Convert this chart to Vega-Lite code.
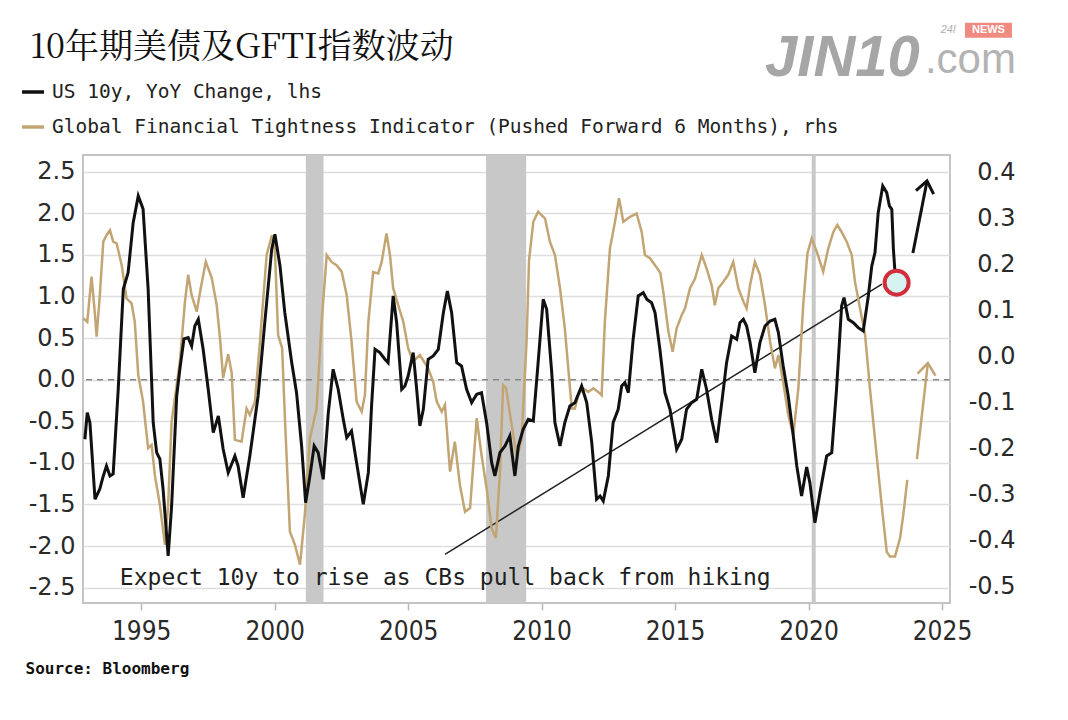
{
  "$schema": "https://vega.github.io/schema/vega-lite/v6.json",
  "width": 867,
  "height": 448,
  "autosize": {"type": "none"},
  "padding": {"left": 83, "top": 155, "right": 118, "bottom": 117},
  "background": "#ffffff",
  "title": {
    "text": "10年期美债及GFTI指数波动",
    "anchor": "start",
    "frame": "group",
    "dx": -53,
    "dy": 48,
    "offset": 6,
    "font": "Noto Serif CJK SC, Noto Sans CJK SC",
    "fontSize": 34,
    "fontWeight": "normal",
    "color": "#111111"
  },
  "config": {
    "view": {"stroke": "#c4c4c4", "strokeWidth": 2},
    "legend": {
      "symbolType": "stroke",
      "symbolSize": 484,
      "symbolStrokeWidth": 3.5,
      "labelFont": "DejaVu Sans Mono",
      "labelFontSize": 19.5,
      "labelColor": "#222222",
      "labelLimit": 1000,
      "labelOffset": 6,
      "rowPadding": 12,
      "padding": 0
    }
  },
  "datasets": {
    "us10": [
      {"t": 1992.89, "v": -0.716}, {"t": 1992.98, "v": -0.397}, {"t": 1993.08, "v": -0.517}, {"t": 1993.27, "v": -1.437},
      {"t": 1993.45, "v": -1.314}, {"t": 1993.58, "v": -1.157}, {"t": 1993.70, "v": -1.037}, {"t": 1993.83, "v": -1.157},
      {"t": 1993.95, "v": -1.133}, {"t": 1994.14, "v": -0.112}, {"t": 1994.33, "v": 1.090}, {"t": 1994.51, "v": 1.286},
      {"t": 1994.70, "v": 1.887}, {"t": 1994.89, "v": 2.208}, {"t": 1995.07, "v": 2.052}, {"t": 1995.26, "v": 1.090},
      {"t": 1995.45, "v": -0.517}, {"t": 1995.58, "v": -0.877}, {"t": 1995.70, "v": -0.953}, {"t": 1995.82, "v": -1.314},
      {"t": 1996.01, "v": -2.119}, {"t": 1996.14, "v": -1.518}, {"t": 1996.33, "v": -0.196}, {"t": 1996.45, "v": 0.129},
      {"t": 1996.60, "v": 0.489}, {"t": 1996.76, "v": 0.505}, {"t": 1996.89, "v": 0.405}, {"t": 1997.01, "v": 0.645},
      {"t": 1997.14, "v": 0.726}, {"t": 1997.32, "v": 0.369}, {"t": 1997.51, "v": -0.112}, {"t": 1997.70, "v": -0.637},
      {"t": 1997.89, "v": -0.436}, {"t": 1998.07, "v": -0.833}, {"t": 1998.26, "v": -1.118}, {"t": 1998.51, "v": -0.917},
      {"t": 1998.63, "v": -1.037}, {"t": 1998.82, "v": -1.418}, {"t": 1999.07, "v": -0.917}, {"t": 1999.38, "v": -0.196},
      {"t": 1999.63, "v": 0.685}, {"t": 1999.89, "v": 1.567}, {"t": 2000.01, "v": 1.748}, {"t": 2000.20, "v": 1.367},
      {"t": 2000.38, "v": 0.805}, {"t": 2000.64, "v": 0.204}, {"t": 2000.82, "v": -0.156}, {"t": 2001.01, "v": -0.797},
      {"t": 2001.16, "v": -1.478}, {"t": 2001.32, "v": -1.157}, {"t": 2001.48, "v": -0.797}, {"t": 2001.63, "v": -0.877},
      {"t": 2001.82, "v": -1.197}, {"t": 2002.01, "v": -0.397}, {"t": 2002.19, "v": 0.125}, {"t": 2002.38, "v": -0.115},
      {"t": 2002.57, "v": -0.476}, {"t": 2002.70, "v": -0.697}, {"t": 2002.88, "v": -0.617}, {"t": 2003.07, "v": -0.998},
      {"t": 2003.32, "v": -1.498}, {"t": 2003.51, "v": -1.118}, {"t": 2003.63, "v": -0.316}, {"t": 2003.76, "v": 0.365},
      {"t": 2003.94, "v": 0.325}, {"t": 2004.13, "v": 0.245}, {"t": 2004.25, "v": 0.204}, {"t": 2004.44, "v": 1.006},
      {"t": 2004.57, "v": 0.685}, {"t": 2004.76, "v": -0.115}, {"t": 2004.88, "v": -0.076}, {"t": 2005.00, "v": 0.044},
      {"t": 2005.19, "v": 0.325}, {"t": 2005.32, "v": -0.115}, {"t": 2005.44, "v": -0.556}, {"t": 2005.57, "v": -0.356},
      {"t": 2005.75, "v": 0.245}, {"t": 2005.94, "v": 0.285}, {"t": 2006.13, "v": 0.365}, {"t": 2006.32, "v": 0.805},
      {"t": 2006.47, "v": 1.066}, {"t": 2006.63, "v": 0.805}, {"t": 2006.82, "v": 0.204}, {"t": 2007.00, "v": 0.165},
      {"t": 2007.19, "v": -0.115}, {"t": 2007.38, "v": -0.276}, {"t": 2007.57, "v": -0.175}, {"t": 2007.75, "v": -0.156},
      {"t": 2007.94, "v": -0.517}, {"t": 2008.13, "v": -0.998}, {"t": 2008.25, "v": -1.157}, {"t": 2008.44, "v": -0.877},
      {"t": 2008.63, "v": -0.797}, {"t": 2008.81, "v": -0.677}, {"t": 2009.00, "v": -1.157}, {"t": 2009.13, "v": -0.797},
      {"t": 2009.31, "v": -0.596}, {"t": 2009.50, "v": -0.476}, {"t": 2009.69, "v": -0.496}, {"t": 2009.87, "v": 0.204},
      {"t": 2010.06, "v": 0.966}, {"t": 2010.19, "v": 0.846}, {"t": 2010.38, "v": 0.084}, {"t": 2010.50, "v": -0.517},
      {"t": 2010.69, "v": -0.797}, {"t": 2010.87, "v": -0.517}, {"t": 2011.06, "v": -0.316}, {"t": 2011.25, "v": -0.276},
      {"t": 2011.50, "v": -0.076}, {"t": 2011.69, "v": -0.276}, {"t": 2011.88, "v": -0.757}, {"t": 2012.06, "v": -1.437},
      {"t": 2012.19, "v": -1.398}, {"t": 2012.31, "v": -1.458}, {"t": 2012.50, "v": -1.157}, {"t": 2012.68, "v": -0.517},
      {"t": 2012.87, "v": -0.356}, {"t": 2013.00, "v": -0.076}, {"t": 2013.12, "v": -0.036}, {"t": 2013.25, "v": -0.156},
      {"t": 2013.43, "v": 0.486}, {"t": 2013.62, "v": 1.006}, {"t": 2013.81, "v": 1.046}, {"t": 2013.94, "v": 0.966},
      {"t": 2014.12, "v": 0.925}, {"t": 2014.25, "v": 0.805}, {"t": 2014.43, "v": 0.369}, {"t": 2014.62, "v": -0.156},
      {"t": 2014.81, "v": -0.356}, {"t": 2015.06, "v": -0.837}, {"t": 2015.25, "v": -0.716}, {"t": 2015.43, "v": -0.356},
      {"t": 2015.62, "v": -0.276}, {"t": 2015.81, "v": -0.236}, {"t": 2016.00, "v": 0.125}, {"t": 2016.18, "v": -0.115},
      {"t": 2016.37, "v": -0.476}, {"t": 2016.56, "v": -0.757}, {"t": 2016.75, "v": -0.276}, {"t": 2016.93, "v": 0.204},
      {"t": 2017.12, "v": 0.525}, {"t": 2017.31, "v": 0.486}, {"t": 2017.43, "v": 0.685}, {"t": 2017.56, "v": 0.726},
      {"t": 2017.68, "v": 0.645}, {"t": 2017.81, "v": 0.445}, {"t": 2017.99, "v": 0.084}, {"t": 2018.18, "v": 0.445},
      {"t": 2018.37, "v": 0.645}, {"t": 2018.56, "v": 0.705}, {"t": 2018.74, "v": 0.726}, {"t": 2018.87, "v": 0.565},
      {"t": 2019.05, "v": 0.165}, {"t": 2019.24, "v": -0.196}, {"t": 2019.43, "v": -0.677}, {"t": 2019.56, "v": -1.037},
      {"t": 2019.74, "v": -1.398}, {"t": 2019.93, "v": -1.049}, {"t": 2020.05, "v": -1.238}, {"t": 2020.24, "v": -1.719},
      {"t": 2020.43, "v": -1.358}, {"t": 2020.68, "v": -0.917}, {"t": 2020.87, "v": -0.877}, {"t": 2021.05, "v": -0.115},
      {"t": 2021.24, "v": 0.886}, {"t": 2021.33, "v": 0.986}, {"t": 2021.49, "v": 0.726}, {"t": 2021.68, "v": 0.685},
      {"t": 2021.86, "v": 0.625}, {"t": 2022.05, "v": 0.585}, {"t": 2022.24, "v": 1.006}, {"t": 2022.37, "v": 1.367},
      {"t": 2022.49, "v": 1.527}, {"t": 2022.61, "v": 2.007}, {"t": 2022.78, "v": 2.328}, {"t": 2022.93, "v": 2.248},
      {"t": 2023.03, "v": 2.088}, {"t": 2023.12, "v": 2.048}, {"t": 2023.18, "v": 1.567}, {"t": 2023.24, "v": 1.286}
    ],
    "gfti": [
      {"t": 1992.83, "v": 0.083}, {"t": 1992.98, "v": 0.075}, {"t": 1993.14, "v": 0.173}, {"t": 1993.27, "v": 0.090},
      {"t": 1993.33, "v": 0.043}, {"t": 1993.45, "v": 0.133}, {"t": 1993.58, "v": 0.249}, {"t": 1993.70, "v": 0.263},
      {"t": 1993.83, "v": 0.274}, {"t": 1993.95, "v": 0.249}, {"t": 1994.08, "v": 0.245}, {"t": 1994.27, "v": 0.198},
      {"t": 1994.45, "v": 0.126}, {"t": 1994.64, "v": 0.115}, {"t": 1994.76, "v": 0.075}, {"t": 1994.89, "v": -0.040},
      {"t": 1995.07, "v": -0.098}, {"t": 1995.26, "v": -0.199}, {"t": 1995.39, "v": -0.192}, {"t": 1995.51, "v": -0.257},
      {"t": 1995.70, "v": -0.322}, {"t": 1995.89, "v": -0.409}, {"t": 1996.01, "v": -0.322}, {"t": 1996.14, "v": -0.142},
      {"t": 1996.33, "v": -0.062}, {"t": 1996.45, "v": -0.011}, {"t": 1996.64, "v": 0.119}, {"t": 1996.76, "v": 0.177},
      {"t": 1996.89, "v": 0.133}, {"t": 1997.08, "v": 0.097}, {"t": 1997.23, "v": 0.148}, {"t": 1997.42, "v": 0.205},
      {"t": 1997.64, "v": 0.171}, {"t": 1997.83, "v": 0.111}, {"t": 1997.95, "v": 0.041}, {"t": 1998.07, "v": -0.047},
      {"t": 1998.26, "v": 0.005}, {"t": 1998.39, "v": -0.036}, {"t": 1998.51, "v": -0.181}, {"t": 1998.76, "v": -0.185},
      {"t": 1998.95, "v": -0.113}, {"t": 1999.07, "v": -0.127}, {"t": 1999.26, "v": -0.098}, {"t": 1999.45, "v": 0.032},
      {"t": 1999.70, "v": 0.220}, {"t": 1999.90, "v": 0.263}, {"t": 2000.01, "v": 0.231}, {"t": 2000.13, "v": 0.046},
      {"t": 2000.28, "v": 0.018}, {"t": 2000.38, "v": -0.127}, {"t": 2000.57, "v": -0.380}, {"t": 2000.76, "v": -0.409},
      {"t": 2000.95, "v": -0.452}, {"t": 2001.13, "v": -0.344}, {"t": 2001.32, "v": -0.178}, {"t": 2001.57, "v": -0.113},
      {"t": 2001.76, "v": 0.075}, {"t": 2001.95, "v": 0.220}, {"t": 2002.13, "v": 0.205}, {"t": 2002.32, "v": 0.198},
      {"t": 2002.51, "v": 0.184}, {"t": 2002.70, "v": 0.133}, {"t": 2002.88, "v": 0.032}, {"t": 2003.07, "v": -0.098},
      {"t": 2003.26, "v": -0.120}, {"t": 2003.38, "v": -0.084}, {"t": 2003.51, "v": 0.075}, {"t": 2003.69, "v": 0.183},
      {"t": 2003.88, "v": 0.180}, {"t": 2004.01, "v": 0.205}, {"t": 2004.19, "v": 0.267}, {"t": 2004.32, "v": 0.220},
      {"t": 2004.44, "v": 0.148}, {"t": 2004.63, "v": 0.111}, {"t": 2004.82, "v": 0.075}, {"t": 2005.00, "v": 0.018},
      {"t": 2005.19, "v": -0.011}, {"t": 2005.44, "v": 0.003}, {"t": 2005.75, "v": -0.026}, {"t": 2005.94, "v": -0.055},
      {"t": 2006.07, "v": -0.098}, {"t": 2006.26, "v": -0.120}, {"t": 2006.38, "v": -0.105}, {"t": 2006.57, "v": -0.250},
      {"t": 2006.75, "v": -0.185}, {"t": 2006.94, "v": -0.279}, {"t": 2007.13, "v": -0.337}, {"t": 2007.32, "v": -0.329},
      {"t": 2007.57, "v": -0.134}, {"t": 2007.75, "v": -0.214}, {"t": 2007.94, "v": -0.286}, {"t": 2008.13, "v": -0.373},
      {"t": 2008.29, "v": -0.394}, {"t": 2008.44, "v": -0.250}, {"t": 2008.56, "v": -0.062}, {"t": 2008.67, "v": -0.069},
      {"t": 2008.81, "v": -0.123}, {"t": 2009.07, "v": -0.218}, {"t": 2009.25, "v": -0.181}, {"t": 2009.44, "v": 0.036},
      {"t": 2009.53, "v": 0.209}, {"t": 2009.69, "v": 0.292}, {"t": 2009.87, "v": 0.314}, {"t": 2010.13, "v": 0.299},
      {"t": 2010.31, "v": 0.249}, {"t": 2010.50, "v": 0.220}, {"t": 2010.69, "v": 0.148}, {"t": 2010.87, "v": 0.061},
      {"t": 2011.00, "v": -0.026}, {"t": 2011.13, "v": -0.113}, {"t": 2011.25, "v": -0.113}, {"t": 2011.37, "v": -0.084},
      {"t": 2011.56, "v": -0.069}, {"t": 2011.75, "v": -0.077}, {"t": 2011.94, "v": -0.069}, {"t": 2012.12, "v": -0.077},
      {"t": 2012.25, "v": -0.084}, {"t": 2012.37, "v": 0.075}, {"t": 2012.56, "v": 0.234}, {"t": 2012.75, "v": 0.292},
      {"t": 2012.90, "v": 0.343}, {"t": 2013.06, "v": 0.292}, {"t": 2013.31, "v": 0.303}, {"t": 2013.56, "v": 0.310},
      {"t": 2013.75, "v": 0.270}, {"t": 2013.87, "v": 0.220}, {"t": 2014.06, "v": 0.213}, {"t": 2014.25, "v": 0.198},
      {"t": 2014.45, "v": 0.181}, {"t": 2014.56, "v": 0.140}, {"t": 2014.75, "v": 0.054}, {"t": 2014.91, "v": 0.010},
      {"t": 2015.06, "v": 0.061}, {"t": 2015.25, "v": 0.090}, {"t": 2015.37, "v": 0.104}, {"t": 2015.56, "v": 0.148},
      {"t": 2015.75, "v": 0.169}, {"t": 2016.00, "v": 0.220}, {"t": 2016.18, "v": 0.191}, {"t": 2016.37, "v": 0.155},
      {"t": 2016.49, "v": 0.111}, {"t": 2016.62, "v": 0.148}, {"t": 2016.81, "v": 0.162}, {"t": 2016.99, "v": 0.177},
      {"t": 2017.18, "v": 0.205}, {"t": 2017.37, "v": 0.148}, {"t": 2017.56, "v": 0.119}, {"t": 2017.68, "v": 0.104},
      {"t": 2017.81, "v": 0.155}, {"t": 2017.99, "v": 0.205}, {"t": 2018.18, "v": 0.177}, {"t": 2018.37, "v": 0.111},
      {"t": 2018.56, "v": 0.032}, {"t": 2018.74, "v": -0.026}, {"t": 2018.87, "v": 0.003}, {"t": 2019.05, "v": -0.055},
      {"t": 2019.24, "v": -0.127}, {"t": 2019.43, "v": -0.170}, {"t": 2019.62, "v": -0.069}, {"t": 2019.80, "v": 0.111},
      {"t": 2019.96, "v": 0.224}, {"t": 2020.12, "v": 0.256}, {"t": 2020.31, "v": 0.227}, {"t": 2020.55, "v": 0.184},
      {"t": 2020.74, "v": 0.234}, {"t": 2020.93, "v": 0.270}, {"t": 2021.08, "v": 0.285}, {"t": 2021.24, "v": 0.270},
      {"t": 2021.43, "v": 0.249}, {"t": 2021.62, "v": 0.220}, {"t": 2021.74, "v": 0.162}, {"t": 2021.93, "v": 0.104},
      {"t": 2022.12, "v": 0.046}, {"t": 2022.30, "v": -0.069}, {"t": 2022.55, "v": -0.214}, {"t": 2022.74, "v": -0.322},
      {"t": 2022.93, "v": -0.424}, {"t": 2023.05, "v": -0.434}, {"t": 2023.24, "v": -0.434}, {"t": 2023.43, "v": -0.394},
      {"t": 2023.55, "v": -0.344}, {"t": 2023.70, "v": -0.268}
    ],
    "recessions": [
      {"start": 2001.17, "end": 2001.83},
      {"start": 2007.92, "end": 2009.42},
      {"start": 2020.12, "end": 2020.27}
    ]
  },
  "layer": [
    {
      "layer": [
        {
          "data": {"name": "recessions"},
          "mark": {"type": "rect", "color": "#c8c8c8"},
          "encoding": {
            "x": {
              "field": "start", "type": "quantitative",
              "scale": {"domain": [1992.82, 2025.3], "nice": false, "zero": false},
              "axis": {
                "values": [1995, 2000, 2005, 2010, 2015, 2020, 2025],
                "format": "d",
                "grid": false,
                "domain": false,
                "ticks": true,
                "tickColor": "#b8b8b8",
                "tickSize": 7,
                "tickWidth": 1.5,
                "labelFont": "Liberation Sans Narrow, DejaVu Sans Condensed, sans-serif",
                "labelFontSize": 26,
                "labelColor": "#2a2a2a",
                "labelPadding": 8,
                "title": "Source: Bloomberg",
                "titleAnchor": "start",
                "titleAlign": "left",
                "titleBaseline": "middle",
                "titleX": -58,
                "titleY": 65,
                "titleFont": "DejaVu Sans Mono",
                "titleFontSize": 16,
                "titleFontWeight": "bold",
                "titleColor": "#111111"
              }
            },
            "x2": {"field": "end"}
          }
        },
        {
          "data": {"values": [{}]},
          "mark": {"type": "rule", "color": "#888888", "strokeWidth": 1.5, "strokeDash": [6, 5]},
          "encoding": {
            "y": {
              "datum": 0, "type": "quantitative",
              "scale": {"domain": [-2.684, 2.7], "nice": false, "zero": false},
              "axis": {
                "orient": "left",
                "values": [-2.5, -2, -1.5, -1, -0.5, 0, 0.5, 1, 1.5, 2, 2.5],
                "labelExpr": "replace(format(datum.value, '.1f'), '\u2212', '-')",
                "grid": true,
                "gridColor": "#dedede",
                "gridWidth": 1.5,
                "domain": false,
                "ticks": false,
                "labelFont": "DejaVu Sans",
                "labelFontSize": 24,
                "labelColor": "#2a2a2a",
                "labelPadding": 8,
                "title": null
              }
            }
          }
        },
        {
          "data": {"values": [{"t": 2006.38, "v": -2.099}, {"t": 2022.75, "v": 1.147}]},
          "mark": {"type": "line", "color": "#222222", "strokeWidth": 1.5},
          "encoding": {
            "x": {"field": "t", "type": "quantitative", "scale": {"domain": [1992.82, 2025.3], "nice": false, "zero": false}},
            "y": {"field": "v", "type": "quantitative", "scale": {"domain": [-2.684, 2.7], "nice": false, "zero": false}}
          }
        },
        {
          "data": {"values": [{"t": 2023.91, "v": 1.522}, {"t": 2024.44, "v": 2.388}]},
          "mark": {"type": "line", "color": "#111111", "strokeWidth": 3},
          "encoding": {
            "x": {"field": "t", "type": "quantitative", "scale": {"domain": [1992.82, 2025.3], "nice": false, "zero": false}},
            "y": {"field": "v", "type": "quantitative", "scale": {"domain": [-2.684, 2.7], "nice": false, "zero": false}}
          }
        },
        {
          "data": {"values": [{"t": 2024.44, "v": 2.388}]},
          "mark": {"type": "point", "shape": "M-1,1.3L0,0L1,1.3", "filled": false, "stroke": "#111111", "strokeWidth": 3, "size": 324, "angle": 11, "opacity": 1},
          "encoding": {
            "x": {"field": "t", "type": "quantitative", "scale": {"domain": [1992.82, 2025.3], "nice": false, "zero": false}},
            "y": {"field": "v", "type": "quantitative", "scale": {"domain": [-2.684, 2.7], "nice": false, "zero": false}}
          }
        },
        {
          "data": {"values": [{"t": 2024.06, "v": -0.955}, {"t": 2024.47, "v": 0.2}]},
          "mark": {"type": "line", "color": "#c3a574", "strokeWidth": 2.5},
          "encoding": {
            "x": {"field": "t", "type": "quantitative", "scale": {"domain": [1992.82, 2025.3], "nice": false, "zero": false}},
            "y": {"field": "v", "type": "quantitative", "scale": {"domain": [-2.684, 2.7], "nice": false, "zero": false}}
          }
        },
        {
          "data": {"values": [{"t": 2024.47, "v": 0.2}]},
          "mark": {"type": "point", "shape": "M-1,1.3L0,0L1,1.3", "filled": false, "stroke": "#c3a574", "strokeWidth": 2.5, "size": 324, "angle": 6.5, "opacity": 1},
          "encoding": {
            "x": {"field": "t", "type": "quantitative", "scale": {"domain": [1992.82, 2025.3], "nice": false, "zero": false}},
            "y": {"field": "v", "type": "quantitative", "scale": {"domain": [-2.684, 2.7], "nice": false, "zero": false}}
          }
        },
        {
          "data": {"values": [{"t": 1994.2, "v": -2.383, "label": "Expect 10y to rise as CBs pull back from hiking"}]},
          "mark": {"type": "text", "align": "left", "baseline": "middle", "font": "DejaVu Sans Mono", "fontSize": 23, "color": "#1e1e1e"},
          "encoding": {
            "x": {"field": "t", "type": "quantitative", "scale": {"domain": [1992.82, 2025.3], "nice": false, "zero": false}},
            "y": {"field": "v", "type": "quantitative", "scale": {"domain": [-2.684, 2.7], "nice": false, "zero": false}},
            "text": {"field": "label"}
          }
        },
        {
          "data": {"values": [{"t": 2018.37, "v": 3.65, "label": "JIN10"}]},
          "mark": {"type": "text", "align": "left", "baseline": "alphabetic", "font": "Liberation Sans", "fontSize": 58, "fontStyle": "italic", "fontWeight": "bold", "color": "#a6a6a6"},
          "encoding": {
            "x": {"field": "t", "type": "quantitative", "scale": {"domain": [1992.82, 2025.3], "nice": false, "zero": false}},
            "y": {"field": "v", "type": "quantitative", "scale": {"domain": [-2.684, 2.7], "nice": false, "zero": false}},
            "text": {"field": "label"}
          }
        },
        {
          "data": {"values": [{"t": 2024.36, "v": 3.686, "label": ".com"}]},
          "mark": {"type": "text", "align": "left", "baseline": "alphabetic", "font": "Liberation Sans", "fontSize": 42, "color": "#b3b3b3"},
          "encoding": {
            "x": {"field": "t", "type": "quantitative", "scale": {"domain": [1992.82, 2025.3], "nice": false, "zero": false}},
            "y": {"field": "v", "type": "quantitative", "scale": {"domain": [-2.684, 2.7], "nice": false, "zero": false}},
            "text": {"field": "label"}
          }
        },
        {
          "data": {"values": [{"t": 2024.95, "v": 4.2, "label": "24l"}]},
          "mark": {"type": "text", "align": "left", "baseline": "middle", "font": "Liberation Sans", "fontSize": 11, "fontStyle": "italic", "color": "#b0b0b0"},
          "encoding": {
            "x": {"field": "t", "type": "quantitative", "scale": {"domain": [1992.82, 2025.3], "nice": false, "zero": false}},
            "y": {"field": "v", "type": "quantitative", "scale": {"domain": [-2.684, 2.7], "nice": false, "zero": false}},
            "text": {"field": "label"}
          }
        },
        {
          "data": {"values": [{"t1": 2025.86, "t2": 2027.62, "v1": 4.11, "v2": 4.29}]},
          "mark": {"type": "rect", "color": "#f08a80"},
          "encoding": {
            "x": {"field": "t1", "type": "quantitative", "scale": {"domain": [1992.82, 2025.3], "nice": false, "zero": false}},
            "x2": {"field": "t2"},
            "y": {"field": "v1", "type": "quantitative", "scale": {"domain": [-2.684, 2.7], "nice": false, "zero": false}},
            "y2": {"field": "v2"}
          }
        },
        {
          "data": {"values": [{"t": 2026.74, "v": 4.2, "label": "NEWS"}]},
          "mark": {"type": "text", "align": "center", "baseline": "middle", "font": "Liberation Sans", "fontSize": 11, "fontWeight": "bold", "color": "#ffffff"},
          "encoding": {
            "x": {"field": "t", "type": "quantitative", "scale": {"domain": [1992.82, 2025.3], "nice": false, "zero": false}},
            "y": {"field": "v", "type": "quantitative", "scale": {"domain": [-2.684, 2.7], "nice": false, "zero": false}},
            "text": {"field": "label"}
          }
        }
      ]
    },
    {
      "data": {"name": "gfti"},
      "mark": {"type": "line", "strokeWidth": 2.5},
      "encoding": {
        "x": {"field": "t", "type": "quantitative", "scale": {"domain": [1992.82, 2025.3], "nice": false, "zero": false}},
        "y": {
          "field": "v", "type": "quantitative",
          "scale": {"domain": [-0.535, 0.437], "nice": false, "zero": false},
          "axis": {
            "orient": "right",
            "values": [-0.5, -0.4, -0.3, -0.2, -0.1, 0, 0.1, 0.2, 0.3, 0.4],
            "labelExpr": "replace(format(datum.value, '.1f'), '\u2212', '-')",
            "grid": false,
            "domain": false,
            "ticks": false,
            "labelFont": "DejaVu Sans",
            "labelFontSize": 24,
            "labelColor": "#2a2a2a",
            "labelAlign": "right",
            "labelPadding": 65,
            "title": null
          }
        },
        "color": {
          "datum": "Global Financial Tightness Indicator (Pushed Forward 6 Months), rhs",
          "type": "nominal",
          "scale": {
            "domain": ["US 10y, YoY Change, lhs", "Global Financial Tightness Indicator (Pushed Forward 6 Months), rhs"],
            "range": ["#111111", "#c3a574"]
          },
          "legend": {"orient": "none", "legendX": -63, "legendY": -76, "title": null}
        }
      }
    },
    {
      "layer": [
        {
          "data": {"name": "us10"},
          "mark": {"type": "line", "strokeWidth": 3},
          "encoding": {
            "x": {"field": "t", "type": "quantitative", "scale": {"domain": [1992.82, 2025.3], "nice": false, "zero": false}},
            "y": {"field": "v", "type": "quantitative", "scale": {"domain": [-2.684, 2.7], "nice": false, "zero": false}, "axis": null},
            "color": {
              "datum": "US 10y, YoY Change, lhs",
              "type": "nominal",
              "scale": {
                "domain": ["US 10y, YoY Change, lhs", "Global Financial Tightness Indicator (Pushed Forward 6 Months), rhs"],
                "range": ["#111111", "#c3a574"]
              },
              "legend": {"orient": "none", "legendX": -63, "legendY": -76, "title": null}
            }
          }
        },
        {
          "data": {"values": [{"t": 2023.3, "v": 1.166}]},
          "mark": {"type": "point", "shape": "circle", "filled": true, "fill": "#d6f3f2", "stroke": "#d22d3a", "strokeWidth": 4, "size": 576, "opacity": 1},
          "encoding": {
            "x": {"field": "t", "type": "quantitative", "scale": {"domain": [1992.82, 2025.3], "nice": false, "zero": false}},
            "y": {"field": "v", "type": "quantitative", "scale": {"domain": [-2.684, 2.7], "nice": false, "zero": false}, "axis": null}
          }
        }
      ]
    }
  ],
  "resolve": {"scale": {"y": "independent"}}
}
